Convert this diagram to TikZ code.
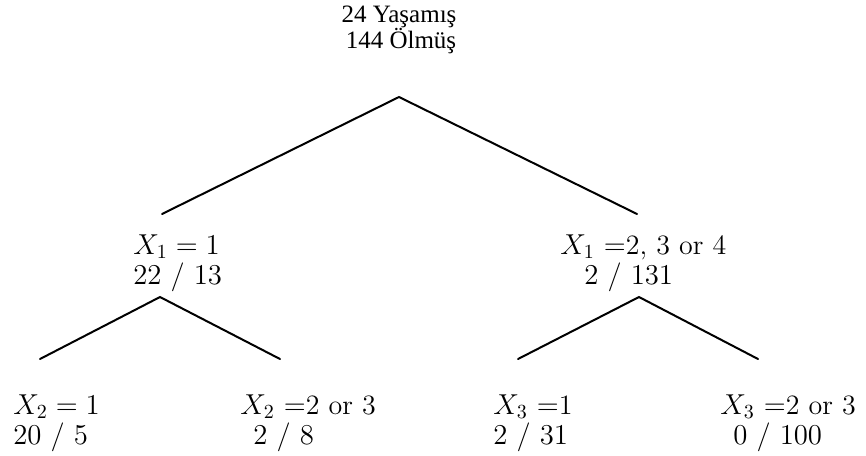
\documentclass[tikz,border=0pt]{standalone}
\usepackage{fontspec}
\newfontfamily\timesfont{Liberation Serif}
\tikzset{
  branch/.style={line width=1pt, line cap=round, line join=miter},
  leaf/.style={anchor=base west, inner sep=0pt, font=\fontsize{14}{14}\selectfont},
  rootlbl/.style={anchor=base, inner sep=0pt, font=\fontsize{12.5}{13}\timesfont},
}
\begin{document}
\begin{tikzpicture}[x=0.5pt, y=-0.5pt]
  \useasboundingbox (0,0) rectangle (866,455);
  % Root counts.
  \node[rootlbl] (rootA) at (399,22) {24 Yaşamış};
  \node[rootlbl] (rootB) at (401,48) {144 Ölmüş};
  % Branch points.
  \coordinate (r)  at (399,97);
  \coordinate (l)  at (162,214);
  \coordinate (rr) at (637,214);
  \coordinate (la) at (160,297);
  \coordinate (ll) at (40,359);
  \coordinate (lr) at (280,359);
  \coordinate (ra) at (639,297);
  \coordinate (rl) at (518,359);
  \coordinate (rrr) at (758,359);
  % First split.
  \draw[branch] (l) -- (r) -- (rr);
  % Second splits.
  \draw[branch] (ll) -- (la) -- (lr);
  \draw[branch] (rl) -- (ra) -- (rrr);
  % Labels.
  \node[leaf] (n1)  at (133,254) {$X_1 = 1$};
  \node[leaf] (n1c) at (133,284) {$22\ /\ 13$};
  \node[leaf] (n2)  at (560,254) {$X_1$ $=$2, 3 or 4};
  \node[leaf] (n2c) at (584,284) {$2\ /\ 131$};
  \node[leaf] (n3)  at (13,414)  {$X_2 = 1$};
  \node[leaf] (n3c) at (13,444)  {$20\ /\ 5$};
  \node[leaf] (n4)  at (240,414) {$X_2$ $=$2 or 3};
  \node[leaf] (n4c) at (253,444) {$2\ /\ 8$};
  \node[leaf] (n5)  at (493,414) {$X_3$ $=$1};
  \node[leaf] (n5c) at (493,444) {$2\ /\ 31$};
  \node[leaf] (n6)  at (720,414) {$X_3$ $=$2 or 3};
  \node[leaf] (n6c) at (733,444) {$0\ /\ 100$};
\end{tikzpicture}
\end{document}
